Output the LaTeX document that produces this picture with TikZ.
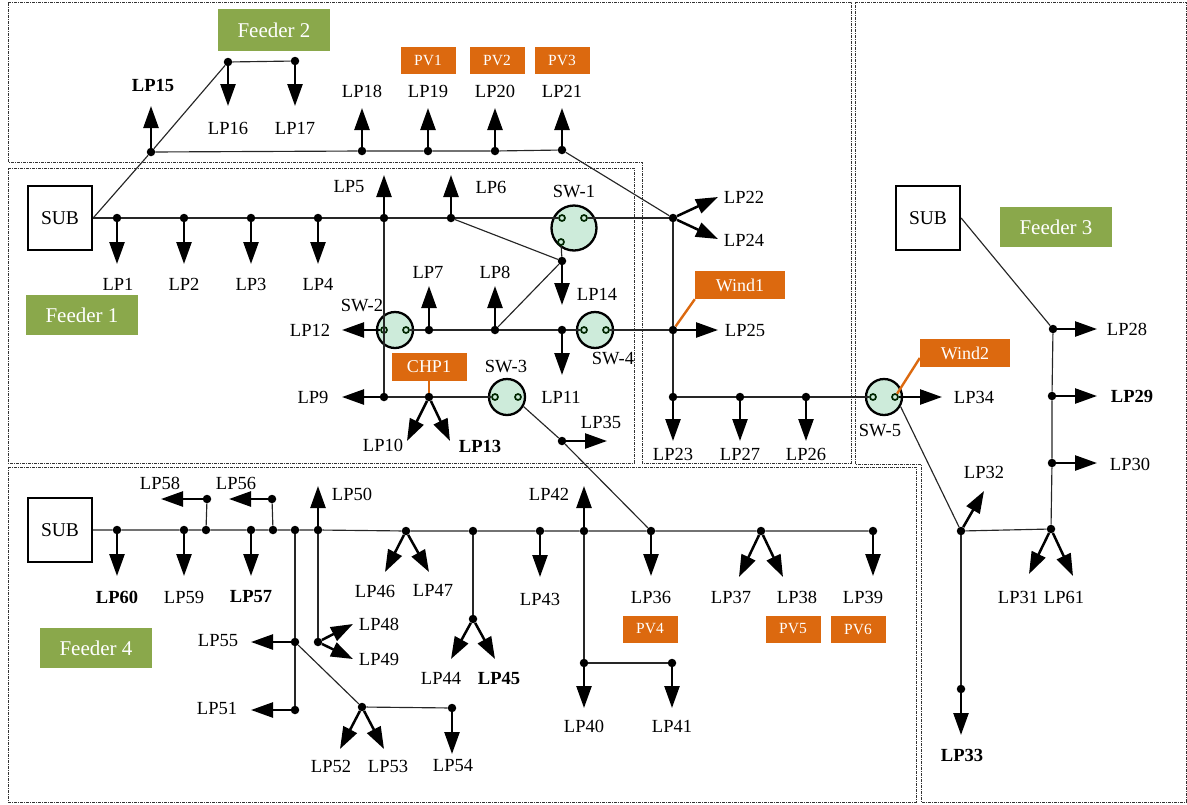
\documentclass[tikz,border=0pt]{standalone}
\usepackage{fontspec}
\setmainfont{Liberation Serif}
\usetikzlibrary{
    arrows.meta,
    positioning
}
\definecolor{feedergreen}{HTML}{8AA84B}
\definecolor{derorange}{HTML}{DC690F}
\definecolor{switchgreen}{HTML}{CDEBDA}
\tikzset{
    area line/.style={draw=black!80, line width=1pt, dash pattern=on 3pt off 1pt on 1pt off 1pt},
    feeder box/.style={
        fill=feedergreen,
        text=white,
        font=\fontsize{21}{24}\selectfont,
        minimum width=112pt,
        minimum height=40pt,
        inner sep=0pt
    },
    der box/.style={
        fill=derorange,
        text=white,
        font=\fontsize{18}{22}\selectfont,
        minimum width=90pt,
        minimum height=28pt,
        inner sep=0pt
    },
    pv box/.style={der box, font=\fontsize{15.5}{18}\selectfont, minimum width=55pt, minimum height=27pt},
    sub box/.style={
        draw,
        line width=2.3pt,
        font=\fontsize{19.5}{22}\selectfont,
        minimum width=64pt,
        minimum height=64pt,
        inner sep=0pt
    },
    bus dot/.style={circle, fill=black, minimum size=8.5pt, inner sep=0pt},
    switch circle/.style={circle, draw, fill=switchgreen, line width=2.3pt, minimum size=36pt, inner sep=0pt},
    contact/.style={circle, draw=black!85!green, line width=1.7pt, minimum size=6pt, inner sep=0pt},
    load label/.style={font=\fontsize{18.5}{22}\selectfont, inner sep=0pt},
    load bold/.style={load label, font=\fontsize{18.5}{22}\selectfont\bfseries},
    load arrow/.style={-{Triangle[length=22pt,width=15pt]}, line width=2.5pt},
    bus line/.style={line width=1.15pt, draw=black!85},
    der line/.style={line width=2.4pt, draw=derorange}
}
\begin{document}
\begin{tikzpicture}[x=1pt,y=-1pt]
    \useasboundingbox (0,0) rectangle (1187,804);

    \draw[area line] (8,2) -- (851,2) -- (851,463) -- (642,463) -- (642,162) -- (8,162) -- cycle;
    \draw[area line] (8,168) -- (634,168) -- (634,463) -- (8,463) -- cycle;
    \draw[area line] (855,2) -- (1186,2) -- (1186,802) -- (921,802) -- (921,464) -- (855,464) -- cycle;
    \draw[area line] (8,467) -- (916,467) -- (916,802) -- (8,802) -- cycle;

    \node[feeder box, minimum height=42pt] (feeder2) at (274,30) {Feeder 2};
    \node[feeder box] (feeder1) at (82,315) {Feeder 1};
    \node[feeder box] (feeder3) at (1056,227) {Feeder 3};
    \node[feeder box] (feeder4) at (96,648) {Feeder 4};

    \node[sub box] (sub1) at (60,218) {SUB};
    \node[sub box] (sub3) at (928,218) {SUB};
    \node[sub box] (sub4) at (60,530) {SUB};

    \foreach \name/\x/\y/\w in {pv1/428/60/PV1,pv2/497/60/PV2,pv3/562/60/PV3,pv4/650/629/PV4,pv5/793/629/PV5,pv6/858/629/PV6}
        \node[pv box] (\name) at (\x,\y) {\w};
    \node[der box] (wind1) at (740,285) {Wind1};
    \node[der box] (wind2) at (965,353) {Wind2};
    \node[der box, minimum width=75pt] (chp1) at (429,367) {CHP1};

    \node[switch circle, minimum size=45pt] (sw1) at (574,228) {};
    \node[switch circle] (sw2) at (395,330) {};
    \node[switch circle] (sw3) at (507,397) {};
    \node[switch circle] (sw4) at (595,330) {};
    \node[switch circle] (sw5) at (884,397) {};
    \foreach \name/\x/\y in {sw1a/562/218,sw1b/584/218,sw1c/561/242,sw2a/384/330,sw2b/406/330,sw3a/495/397,sw3b/518/397,sw4a/584/330,sw4b/606/330,sw5a/873/397,sw5b/895/397}
        \node[contact] (\name) at (\x,\y) {};

    \foreach \name/\x/\y in {
        dLP1/117/218,dLP2/184/218,dLP3/251/218,dLP4/318/218,dLP5/384/218,dLP6/451/218,
        dLP14/562/261,dLP7/429/330,dLP8/495/330,dLP11/562/330,dLP9/384/397,dLP10/429/397,dLP35/562/441,
        dLP15/151/152,dLP16/228/62,dLP17/295/61,dLP18/362/151,dLP19/428/151,dLP20/495/151,dLP21/562/150,
        dLP22/673/218,dLP25/673/330,dLP23/673/397,dLP27/740/397,dLP26/806/397,
        dLP28/1053/329,dLP29/1052/396,dLP30/1052/463,dLP31/1051/529,dLP32/961/531,dLP33/961/689,
        dLP60/117/530,dLP59/184/530,dLP58a/206/530,dLP58/207/499,dLP57/251/530,dLP56a/273/530,dLP56/272/499,
        dLP55a/295/530,dLP55/295/642,dLP51/295/710,dLP50/318/530,dLP48/318/642,dLP52/362/707,dLP54/452/708,
        dLP46/406/531,dLP44a/473/531,dLP44/473/619,dLP43/540/531,dLP42/584/531,dLP40/584/663,dLP41/672/663,
        dLP36/651/531,dLP37/761/531,dLP39/873/531}
        \node[bus dot] (\name) at (\x,\y) {};

    \foreach \name/\from/\tx/\ty/\lx/\ly in {
        LP1/dLP1/117/264/118/284,LP2/dLP2/184/264/184/284,LP3/dLP3/251/264/251/284,LP4/dLP4/318/264/318/284,
        LP5/dLP5/384/175/349/187,LP6/dLP6/451/175/491/187,LP7/dLP7/429/286/428/272,LP8/dLP8/495/286/495/272,
        LP9/dLP9/342/397/313/397,LP10/dLP10/407/441/383/445,LP11/dLP11/562/375/561/397,LP12/sw2a/342/330/310/330,
        LP14/dLP14/562/305/597/294,LP35/dLP35/607/441/601/422,
        LP16/dLP16/228/106/228/128,LP17/dLP17/295/106/295/128,LP18/dLP18/362/108/362/91,LP19/dLP19/428/108/428/91,
        LP20/dLP20/495/108/495/91,LP21/dLP21/562/108/562/91,
        LP22/dLP22/718/197/744/197,LP24/dLP22/718/239/744/240,LP25/dLP25/718/330/745/330,LP23/dLP23/673/441/673/454,
        LP27/dLP27/740/441/740/454,LP26/dLP26/806/441/806/454,LP34/sw5b/942/397/974/397,
        LP28/dLP28/1097/329/1127/329,LP30/dLP30/1097/463/1130/464,LP31/dLP31/1029/574/1018/597,LP61/dLP31/1073/576/1064/597,
        LP32/dLP32/984/491/984/472,
        LP59/dLP59/184/576/184/597,LP58/dLP58/161/499/160/483,LP56/dLP56/229/499/236/483,LP55/dLP55/251/642/218/641,
        LP51/dLP51/251/710/217/708,LP50/dLP50/318/486/352/494,LP48/dLP48/353/624/379/624,LP49/dLP48/353/659/379/659,
        LP52/dLP52/340/749/331/766,LP53/dLP52/384/749/388/766,LP54/dLP54/452/754/453/765,
        LP46/dLP46/385/572/375/591,LP47/dLP46/429/572/433/590,LP44/dLP44/451/659/441/678,LP43/dLP43/540/577/540/599,
        LP42/dLP42/584/486/549/494,LP40/dLP40/584/708/584/726,LP41/dLP41/672/708/672/726,LP36/dLP36/651/576/651/597,
        LP37/dLP37/739/577/731/597,LP38/dLP37/783/577/797/597,LP39/dLP39/873/576/863/597}{
        \coordinate (tip\name) at (\tx,\ty);
        \node[load label] (label\name) at (\lx,\ly) {\name};
        \draw[load arrow] (\from) -- (tip\name);
    }
    \foreach \name/\from/\tx/\ty/\lx/\ly in {
        LP13/dLP10/450/441/480/446,LP15/dLP15/151/106/153/85,LP29/dLP29/1097/396/1132/396,LP33/dLP33/961/735/962/755,
        LP60/dLP60/117/576/117/597,LP57/dLP57/251/576/251/597,LP45/dLP44/495/659/499/678}{
        \coordinate (tip\name) at (\tx,\ty);
        \node[load bold] (label\name) at (\lx,\ly) {\name};
        \draw[load arrow] (\from) -- (tip\name);
    }

    \node[load label] (labelsw1) at (574,192) {SW-1};
    \node[load label] (labelsw2) at (362,306) {SW-2};
    \node[load label] (labelsw3) at (506,367) {SW-3};
    \node[load label] (labelsw4) at (613,359) {SW-4};
    \node[load label] (labelsw5) at (880,431) {SW-5};

    \draw[bus line] (sub1.east) -- (dLP1) -- (dLP2) -- (dLP3) -- (dLP4) -- (dLP5) -- (dLP6) -- (sw1a);
    \draw[bus line] (sw1b) -- (dLP22);
    \draw[bus line] (sub1.east) -- (dLP15) -- (dLP16) -- (dLP17);
    \draw[bus line] (dLP15) -- (dLP18) -- (dLP19) -- (dLP20) -- (dLP21) -- (dLP22);
    \draw[bus line] (dLP5) -- (dLP9) -- (dLP10) -- (sw3a);
    \draw[bus line] (dLP6) -- (dLP14) -- (sw1c);
    \draw[bus line] (dLP8) -- (dLP14);
    \draw[bus line] (sw2b) -- (dLP7) -- (dLP8) -- (dLP11) -- (sw4a);
    \draw[bus line] (sw4b) -- (dLP25);
    \draw[bus line] (sw3.-30) -- (dLP35) -- (dLP36);
    \draw[bus line] (dLP22) -- (dLP25) -- (dLP23) -- (dLP27) -- (dLP26) -- (sw5a);
    \draw[bus line] (sw5.-30) -- (dLP32) -- (dLP31) -- (dLP30) -- (dLP29) -- (dLP28) -- (sub3.east);
    \draw[bus line] (dLP32) -- (dLP33);
    \draw[bus line] (sub4.east) -- (dLP60) -- (dLP59) -- (dLP58a) -- (dLP57) -- (dLP56a) -- (dLP55a) -- (dLP50) -- (dLP46)
        -- (dLP44a) -- (dLP43) -- (dLP42) -- (dLP36) -- (dLP37) -- (dLP39);
    \draw[bus line] (dLP58a) -- (dLP58);
    \draw[bus line] (dLP56a) -- (dLP56);
    \draw[bus line] (dLP55a) -- (dLP55) -- (dLP51);
    \draw[bus line] (dLP55) -- (dLP52) -- (dLP54);
    \draw[bus line] (dLP50) -- (dLP48);
    \draw[bus line] (dLP44a) -- (dLP44);
    \draw[bus line] (dLP42) -- (dLP40) -- (dLP41);

    \draw[der line] (chp1.south) -- (dLP10);
    \draw[der line] (wind1.south west) -- (dLP25);
    \draw[der line] ([yshift=-5pt]wind2.west) -- (sw5b);
\end{tikzpicture}
\end{document}
